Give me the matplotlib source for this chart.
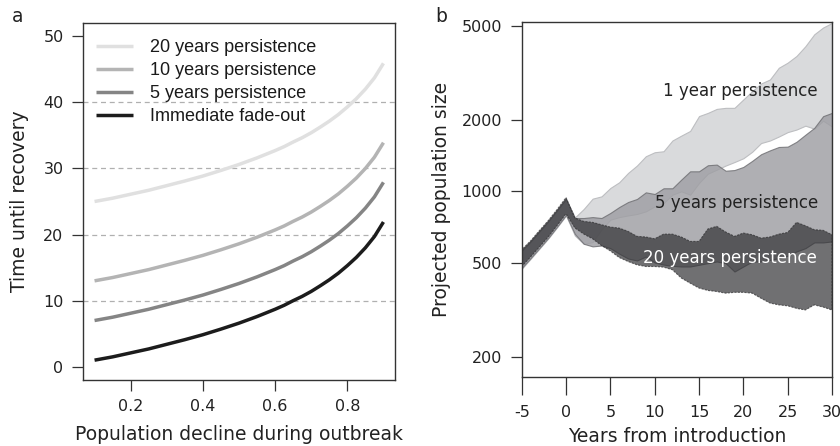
import matplotlib
matplotlib.use("Agg")
import matplotlib.pyplot as plt
from matplotlib.ticker import FixedLocator, FixedFormatter, NullLocator

plt.rcParams['font.family'] = ['DejaVu Sans']
plt.rcParams['axes.unicode_minus'] = False

# ---------------- Panel a data ----------------
decline = [0.10, 0.15, 0.20, 0.25, 0.30, 0.35, 0.40, 0.45, 0.50, 0.55,
           0.60, 0.625, 0.65, 0.675, 0.70, 0.725, 0.75, 0.775, 0.80,
           0.825, 0.85, 0.875, 0.90]
t_immediate = [1.0, 1.5, 2.1, 2.7, 3.4, 4.1, 4.85, 5.7, 6.6, 7.6,
               8.7, 9.3, 10.0, 10.65, 11.4, 12.25, 13.15, 14.15, 15.3,
               16.55, 18.0, 19.7, 21.9]
t_5yr = [7.0, 7.5, 8.1, 8.7, 9.4, 10.1, 10.85, 11.7, 12.6, 13.6,
         14.7, 15.3, 16.0, 16.65, 17.4, 18.25, 19.15, 20.15, 21.3,
         22.55, 24.0, 25.7, 27.9]
t_10yr = [13.0, 13.5, 14.1, 14.7, 15.4, 16.1, 16.85, 17.7, 18.6, 19.6,
          20.7, 21.3, 22.0, 22.65, 23.4, 24.25, 25.15, 26.15, 27.3,
          28.55, 30.0, 31.7, 33.9]
t_20yr = [25.0, 25.5, 26.1, 26.7, 27.4, 28.1, 28.85, 29.7, 30.6, 31.6,
          32.7, 33.3, 34.0, 34.65, 35.4, 36.25, 37.15, 38.15, 39.3,
          40.55, 42.0, 43.7, 45.9]
labels_a = ["20 years persistence", "10 years persistence",
            "5 years persistence", "Immediate fade-out"]

# ---------------- Panel b data ----------------
years = list(range(-5, 31))
up_1yr = [560, 612, 676, 745, 830, 925,
          775, 842, 931, 952, 1033, 1092, 1196, 1285, 1407, 1463,
          1477, 1640, 1720, 1800, 2080, 2146, 2231, 2254, 2254, 2446,
          2651, 2856, 2971, 3330, 3500, 3736, 4108, 4612, 4928, 5150]
lo_1yr = [470, 518, 572, 632, 705, 790,
          650, 600, 610, 690, 759, 778, 791, 802, 823, 864,
          892, 968, 1000, 968, 1085, 1188, 1235, 1285, 1330, 1380,
          1470, 1600, 1640, 1705, 1780, 1825, 1895, 1840, 1990, 1880]
up_5yr = [562, 614, 678, 748, 833, 930,
          771, 771, 778, 771, 810, 858, 901, 928, 990, 974,
          1030, 1030, 1121, 1215, 1215, 1289, 1297, 1222, 1230, 1268,
          1345, 1435, 1490, 1540, 1545, 1620, 1735, 1855, 2079, 2146]
lo_5yr = [474, 522, 576, 636, 710, 795,
          660, 600, 585, 590, 575, 545, 520, 510, 530, 500,
          490, 484, 481, 481, 489, 497, 505, 497, 458, 481,
          505, 505, 513, 522, 534, 557, 575, 608, 608, 614]
up_20yr = [566, 617, 682, 752, 838, 940,
           771, 746, 739, 722, 706, 699, 677, 645, 641, 630,
           659, 659, 641, 614, 614, 693, 711, 673, 645, 666,
           655, 634, 641, 659, 670, 739, 715, 688, 684, 655]
lo_20yr = [480, 528, 582, 642, 718, 805,
           700, 660, 630, 590, 560, 525, 505, 489, 481, 481,
           478, 466, 430, 409, 390, 381, 377, 371, 374, 374,
           371, 353, 337, 331, 328, 320, 315, 331, 324, 315]

W, H = 840, 446
fig = plt.figure(figsize=(W / 100, H / 100), dpi=100)

def ax_rect(l, r, t, b):
    return [l / W, 1 - b / H, (r - l) / W, (b - t) / H]

spine_c = '#333333'
tick_fs = 11.5
lab_fs = 13.5

# ---------------- Panel a ----------------
ax1 = fig.add_axes(ax_rect(83, 395, 23, 380))
for yv in [10, 20, 30, 40]:
    ax1.axhline(yv, color='#b0b0b0', lw=0.9, ls=(0, (4, 3)), zorder=1)
cols = ['#e0e0e0', '#b4b4b4', '#858585', '#1c1c1c']
series = [t_20yr, t_10yr, t_5yr, t_immediate]
for s, c, lab in zip(series, cols, labels_a):
    ax1.plot(decline, s, color=c, lw=2.5, solid_capstyle='butt',
             solid_joinstyle='round', label=lab, zorder=3)
ax1.set_xlim(0.068, 0.932)
ax1.set_ylim(-2, 52)
ax1.set_xticks([0.2, 0.4, 0.6, 0.8])
ax1.set_xticklabels(['0.2', '0.4', '0.6', '0.8'])
ax1.set_yticks([0, 10, 20, 30, 40, 50])
ax1.tick_params(direction='out', length=8, width=0.9, color=spine_c,
                labelsize=tick_fs, labelcolor='#222222', pad=6)
for sp in ax1.spines.values():
    sp.set_color(spine_c)
    sp.set_linewidth(1.0)
ax1.set_xlabel('Population decline during outbreak', fontsize=lab_fs, color='#222222', labelpad=7.5)
ax1.set_ylabel('Time until recovery', fontsize=lab_fs, color='#222222', labelpad=10)
leg = ax1.legend(loc='upper left', frameon=False, prop={'family': 'Liberation Sans', 'size': 13},
                 handlelength=2.05, handletextpad=0.95, labelspacing=0.33,
                 borderaxespad=0.0, bbox_to_anchor=(0.019, 0.975))
for t in leg.get_texts():
    t.set_color('#1a1a1a')
fig.text(12 / W, 1 - 16 / H, 'a', fontsize=lab_fs, va='center', ha='left', color='#222222')

# ---------------- Panel b ----------------
ax2 = fig.add_axes(ax_rect(521.7, 832, 22, 377))
ax2.set_yscale('log')
ax2.fill_between(years, lo_1yr, up_1yr, facecolor='#d9dadc', edgecolor='#bdbec1',
                 lw=0.8, zorder=2)
ax2.fill_between(years, lo_5yr, up_5yr, facecolor=(0.62, 0.62, 0.64), alpha=0.82,
                 edgecolor='#6e6e72', lw=0.8, zorder=3)
ax2.fill_between(years, lo_20yr, up_20yr, facecolor=(0.19, 0.19, 0.2), alpha=0.69,
                 edgecolor='#2e2e30', lw=0.8, ls=(0, (2, 1)), zorder=4)
ax2.set_xlim(-5, 30)
ax2.set_ylim(164, 5200)
ax2.yaxis.set_major_locator(FixedLocator([200, 500, 1000, 2000, 5000]))
ax2.yaxis.set_major_formatter(FixedFormatter(['200', '500', '1000', '2000', '5000']))
ax2.yaxis.set_minor_locator(NullLocator())
ax2.set_xticks([-5, 0, 5, 10, 15, 20, 25, 30])
ax2.set_xticklabels(['-5', '0', '5', '10', '15', '20', '25', '30'])
ax2.tick_params(axis='y', direction='out', length=8, width=0.9, color=spine_c,
                labelsize=tick_fs, labelcolor='#222222', pad=6)
ax2.tick_params(axis='x', direction='out', length=13, width=0.9, color=spine_c,
                labelsize=tick_fs, labelcolor='#222222', pad=7)
for sp in ax2.spines.values():
    sp.set_color(spine_c)
    sp.set_linewidth(1.0)
    sp.set_zorder(6)
ax2.set_xlabel('Years from introduction', fontsize=lab_fs, color='#222222', labelpad=5.5)
ax2.set_ylabel('Projected population size', fontsize=lab_fs, color='#222222', labelpad=8)
ax2.text(28.35, 2662, '1 year persistence', ha='right', va='center', fontsize=12,
         color='#222222', zorder=7)
ax2.text(28.45, 890, '5 years persistence', ha='right', va='center', fontsize=12,
         color='#222222', zorder=7)
ax2.text(28.3, 524, '20 years persistence', ha='right', va='center', fontsize=12,
         color='white', zorder=7)
fig.text(435 / W, 1 - 16 / H, 'b', fontsize=lab_fs, va='center', ha='left', color='#222222')

fig.savefig('out.png', dpi=100)
